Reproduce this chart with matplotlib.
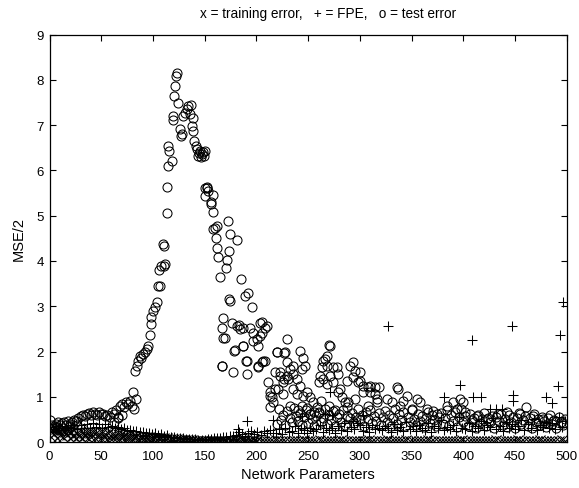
import numpy as np
import matplotlib
matplotlib.use("Agg")
import matplotlib.pyplot as plt

plt.rcParams["font.family"] = ["Liberation Sans", "DejaVu Sans"]

# --- training error (x), sampled every 3 network parameters ---
train_x = np.arange(0, 500, 3)
train_y = [
    0.30, 0.26, 0.28, 0.24, 0.27, 0.22, 0.25, 0.23, 0.26, 0.21,
    0.24, 0.20, 0.23, 0.19, 0.22, 0.20, 0.18, 0.21, 0.17, 0.19,
    0.18, 0.16, 0.17, 0.15, 0.16, 0.14, 0.15, 0.13, 0.14, 0.12,
    0.12, 0.11, 0.12, 0.10, 0.10, 0.09, 0.09, 0.08, 0.08, 0.07,
    0.06, 0.06, 0.05, 0.05, 0.04, 0.04, 0.04, 0.03, 0.03, 0.03,
    0.03, 0.02, 0.03, 0.02, 0.02, 0.03, 0.02, 0.03, 0.02, 0.03,
    0.03, 0.02, 0.04, 0.03, 0.02, 0.03, 0.04, 0.02, 0.03, 0.02,
    0.03, 0.02, 0.03, 0.04, 0.02, 0.03, 0.02, 0.03, 0.02, 0.03,
    0.02, 0.03, 0.04, 0.02, 0.03, 0.02, 0.03, 0.04, 0.02, 0.03,
    0.03, 0.02, 0.03, 0.02, 0.04, 0.03, 0.02, 0.03, 0.02, 0.03,
    0.02, 0.03, 0.02, 0.04, 0.03, 0.02, 0.03, 0.02, 0.03, 0.04,
    0.03, 0.02, 0.03, 0.02, 0.03, 0.04, 0.02, 0.03, 0.02, 0.03,
    0.02, 0.03, 0.04, 0.03, 0.02, 0.03, 0.02, 0.03, 0.03, 0.02,
    0.03, 0.02, 0.03, 0.04, 0.02, 0.03, 0.02, 0.03, 0.02, 0.03,
    0.02, 0.03, 0.02, 0.03, 0.04, 0.02, 0.03, 0.02, 0.03, 0.02,
    0.03, 0.04, 0.02, 0.03, 0.02, 0.03, 0.02, 0.03, 0.04, 0.02,
    0.03, 0.02, 0.03, 0.02, 0.03, 0.04, 0.03,
]
# second training run, small networks only
train2_x = np.arange(1.5, 200, 3)
train2_y = [
    0.12, 0.18, 0.10, 0.16, 0.11, 0.15, 0.09, 0.14, 0.10, 0.13,
    0.09, 0.13, 0.08, 0.12, 0.09, 0.11, 0.08, 0.12, 0.07, 0.10,
    0.08, 0.10, 0.07, 0.09, 0.06, 0.08, 0.07, 0.09, 0.06, 0.08,
    0.06, 0.07, 0.05, 0.07, 0.05, 0.06, 0.04, 0.05, 0.04, 0.05,
    0.03, 0.04, 0.03, 0.03, 0.02, 0.03, 0.02, 0.02, 0.02, 0.02,
    0.02, 0.01, 0.02, 0.01, 0.02, 0.01, 0.02, 0.01, 0.02, 0.01,
    0.02, 0.01, 0.02, 0.01, 0.02, 0.01, 0.02,
]

# --- FPE (+), sampled every 3 network parameters ---
fpe_x = np.arange(0, 500, 3)
fpe_y = [
    0.33, 0.28, 0.35, 0.30, 0.36, 0.27, 0.34, 0.31, 0.37, 0.29,
    0.38, 0.32, 0.40, 0.30, 0.41, 0.34, 0.39, 0.31, 0.40, 0.33,
    0.36, 0.30, 0.33, 0.28, 0.30, 0.26, 0.27, 0.24, 0.25, 0.22,
    0.22, 0.20, 0.21, 0.18, 0.19, 0.16, 0.17, 0.14, 0.15, 0.12,
    0.11, 0.10, 0.09, 0.08, 0.07, 0.07, 0.06, 0.06, 0.05, 0.05,
    0.05, 0.06, 0.07, 0.08, 0.10, 0.09, 0.12, 0.11, 0.14, 0.13,
    0.16, 0.22, 0.18, 0.14, 0.20, 0.25, 0.17, 0.22, 0.15, 0.24,
    0.19, 0.26, 0.21, 0.20, 0.28, 0.18, 0.30, 0.22, 0.25, 0.36,
    0.21, 0.32, 0.27, 0.19, 0.32, 0.24, 0.29, 0.38, 0.22, 0.30,
    0.26, 0.31, 0.21, 0.35, 0.27, 0.42, 0.24, 0.33, 0.29, 0.41,
    0.38, 0.25, 0.34, 0.22, 0.38, 0.28, 0.31, 0.26, 0.36, 0.30,
    0.23, 0.40, 0.27, 0.33, 0.25, 0.45, 0.29, 0.35, 0.24, 0.38,
    0.31, 0.27, 0.43, 0.22, 0.36, 0.30, 0.48, 0.26, 0.34, 0.29,
    0.37, 0.25, 0.55, 0.32, 0.28, 0.41, 0.24, 0.35, 0.30, 0.46,
    0.27, 0.38, 0.33, 0.52, 0.29, 0.36, 0.25, 0.44, 0.31, 0.40,
    0.28, 0.35, 0.48, 0.26, 0.39, 0.32, 0.50, 0.27, 0.37, 0.33,
    0.45, 0.30, 0.41, 0.28, 0.55, 0.34, 0.47,
]
# FPE values well above the band
fpe_hi_x = [190.5, 216.3, 182.4, 243.7, 266.2, 271.0, 272.6, 293.5, 303.2, 326.8,
            381.2, 396.6, 407.9, 408.9, 416.9, 425.6, 432.0, 436.9, 446.6, 447.5,
            448.1, 479.7, 485.2, 491.6, 493.2, 496.4]
fpe_hi_y = [0.46, 0.48, 0.29, 0.57, 0.62, 1.10, 0.60, 0.47, 0.60, 2.57,
            1.00, 1.26, 2.25, 0.99, 1.00, 0.73, 0.73, 0.73, 2.57, 0.91,
            1.04, 0.99, 0.86, 1.23, 2.36, 3.09]

# --- test error (o) ---
test_x = [
    0, 2, 4, 6, 8, 10, 12, 14, 16, 18, 20, 22, 24, 26, 28, 30, 32, 34, 36, 38,
    40, 42, 44, 46, 48, 50, 52, 54, 56, 58, 60, 62, 64, 66, 68, 70, 72, 74, 76, 78,
    80, 82, 84, 3, 7, 13, 20, 27, 62, 66, 70,
    81, 82.6, 84.2, 85.8, 87.4, 88.5, 90, 92, 93.9, 95.5, 97.1, 97.8, 98.1, 99.7,
    101.9, 103.6, 105, 106.8, 106.1, 108, 110.5, 111.6, 109.4, 110.6, 113.2, 113.2,
    114.2, 115.7, 114.8, 118, 119, 119.6, 120.6, 121.3, 121.9, 122.9, 124.4, 126.1,
    127, 127.7, 129.3, 130.9, 132.6, 134.1, 136.4, 135.7, 138.4, 138, 138.9, 139.6,
    141.5, 142.8, 143.8, 145.4, 147, 148.6, 150.2, 146, 144.5, 149,
    150.2, 151.9, 152.5, 153.4, 150.2, 158.3, 155.8, 156.5, 158.3, 172.8, 161.5,
    158.3, 159.9, 174.4, 181.4, 160.9, 162.1, 173.7, 163.1, 171.8, 170.5, 164.7,
    185, 173.7, 188.9, 192.1, 195.4, 174.4, 167.3, 166.4, 176, 180.9, 183.4, 184.1,
    187.3, 193.7, 196.9, 200.2, 201.7, 203.4, 205, 205, 208.2, 203.4, 209.9, 169.6,
    167.9, 179.2, 178.3, 186.7, 187.3, 196.9, 189.9, 190.5, 205, 208.2, 206.6,
    166.4, 166.4, 177.6, 191.1, 201.7, 201.7,
    211.4, 213, 213, 216.2, 217.9, 219.5, 222.7, 225.9, 229.2, 227.5, 232.4, 230.8,
    235.6, 220.1, 226.6, 229.8, 242, 245.2, 217.9, 222.7, 232.4, 226.4, 229.6, 235.6,
    238.8, 243.7, 246.9, 213, 214.7, 221.1, 226, 235.6, 238.8, 242, 245.2, 248.5,
    251.7, 254.9, 258.2, 255.6, 271, 270.3, 267.8, 266.2, 264.6, 263, 268.4, 261.4,
    264.6, 271, 260.7, 267.8, 274.2, 277.5, 274.2, 279, 279.1, 282.3, 285.5, 290.3,
    293, 295.2, 293.5, 300, 298.4, 287.1, 303.2, 308, 309.7, 314.5, 316.1, 300,
    287.1, 280.7, 288.7, 295.2, 303.2, 309.7, 314.5, 318.7, 316.1, 308, 325.8, 330.6,
    335.5, 337, 345.1, 341.8, 338.6, 354.8, 358, 350, 364.5, 370.8, 374.1, 383.8,
    390.1, 396.6, 399.2, 393.4, 401.4, 412.8, 422.4, 433.6, 441.7, 461, 454.6, 467.4,
    477.1, 486.8, 496.4, 249, 252, 244, 240, 260, 262, 270, 276,
]
test_y = [
    0.49, 0.38, 0.36, 0.40, 0.45, 0.37, 0.42, 0.44, 0.38, 0.46, 0.40, 0.45, 0.49, 0.47,
    0.52, 0.58, 0.60, 0.57, 0.62, 0.64, 0.60, 0.66, 0.63, 0.59, 0.66, 0.61, 0.62, 0.58,
    0.60, 0.55, 0.66, 0.62, 0.70, 0.55, 0.80, 0.84, 0.78, 0.88, 0.85, 0.91, 0.80, 0.73,
    0.95, 0.30, 0.33, 0.31, 0.35, 0.38, 0.45, 0.52, 0.60,
    1.11, 1.58, 1.69, 1.80, 1.91, 1.85, 1.95, 2.00, 2.05, 2.13, 2.36, 2.61, 2.76, 2.90,
    2.98, 3.09, 3.45, 3.45, 3.81, 3.90, 3.90, 3.93, 4.37, 4.34, 5.06, 5.63,
    6.10, 6.44, 6.55, 6.22, 7.20, 7.12, 7.64, 7.86, 8.08, 8.15, 7.49, 6.92,
    6.76, 6.80, 7.21, 7.28, 7.36, 7.43, 7.45, 7.25, 7.17, 6.99, 6.88, 6.66,
    6.55, 6.47, 6.33, 6.44, 6.36, 6.40, 6.44, 6.30, 6.38, 6.32,
    5.61, 5.61, 5.63, 5.55, 5.43, 5.46, 5.30, 5.25, 5.09, 4.89, 4.78,
    4.71, 4.74, 4.60, 4.47, 4.50, 4.28, 4.22, 4.08, 4.03, 3.84, 3.64,
    3.60, 3.16, 3.23, 3.29, 2.98, 3.12, 2.73, 2.53, 2.64, 2.57, 2.58, 2.50,
    2.51, 2.53, 2.42, 2.28, 2.13, 2.64, 2.42, 2.66, 2.53, 2.35, 2.57, 2.29,
    2.29, 2.04, 2.02, 2.13, 2.13, 2.24, 1.80, 1.80, 1.76, 1.80, 1.80,
    1.67, 1.69, 1.54, 1.50, 1.65, 1.69,
    1.32, 1.02, 0.77, 0.88, 1.17, 1.98, 1.54, 1.32, 2.28, 1.98, 0.80, 1.39,
    1.69, 2.00, 1.97, 1.77, 2.02, 1.85, 1.54, 1.47, 1.61, 1.39, 1.47, 1.50,
    1.39, 1.61, 1.69, 1.10, 0.99, 1.17, 1.06, 1.17, 1.06, 1.24, 1.02, 1.10,
    0.99, 0.88, 0.77, 0.66, 2.13, 2.14, 1.91, 1.83, 1.80, 1.65, 1.69, 1.47,
    1.39, 1.47, 1.32, 1.28, 1.32, 1.65, 1.65, 1.50, 1.10, 0.99, 0.88, 1.69,
    1.76, 1.58, 1.43, 1.54, 1.32, 0.77, 1.24, 1.21, 1.10, 1.06, 0.95, 1.35,
    1.35, 1.17, 0.88, 0.95, 1.10, 1.24, 1.21, 1.21, 0.88, 0.80, 0.95, 0.88,
    1.21, 1.17, 1.02, 0.91, 0.80, 0.95, 0.88, 0.73, 0.73, 0.69, 0.62, 0.80,
    0.88, 0.95, 0.88, 0.73, 0.66, 0.58, 0.51, 0.62, 0.66, 0.77, 0.62, 0.58,
    0.51, 0.47, 0.43, 0.75, 0.62, 0.80, 0.70, 0.65, 0.90, 0.80, 0.70,
]
# low test errors from 220 parameters on, every 2 parameters
test_band_x = np.arange(220, 500, 2)
test_band_y = [
    0.40, 0.72, 0.48, 0.60, 0.37, 0.68, 0.52, 0.44, 0.75, 0.58,
    0.46, 0.65, 0.38, 0.55, 0.70, 0.42, 0.62, 0.50, 0.35, 0.58,
    0.66, 0.44, 0.54, 0.72, 0.40, 0.60, 0.48, 0.68, 0.36, 0.56,
    0.62, 0.45, 0.70, 0.38, 0.58, 0.52, 0.65, 0.42, 0.55, 0.74,
    0.48, 0.60, 0.36, 0.66, 0.50, 0.70, 0.42, 0.58, 0.46, 0.64,
    0.38, 0.55, 0.68, 0.44, 0.60, 0.35, 0.52, 0.72, 0.40, 0.62,
    0.48, 0.66, 0.36, 0.56, 0.44, 0.70, 0.50, 0.38, 0.62, 0.46,
    0.58, 0.34, 0.54, 0.66, 0.42, 0.60, 0.48, 0.36, 0.56, 0.64,
    0.40, 0.52, 0.70, 0.38, 0.60, 0.46, 0.66, 0.34, 0.55, 0.72,
    0.44, 0.58, 0.36, 0.62, 0.48, 0.54, 0.32, 0.60, 0.42, 0.50,
    0.64, 0.36, 0.52, 0.44, 0.58, 0.30, 0.55, 0.46, 0.62, 0.38,
    0.50, 0.34, 0.60, 0.44, 0.56, 0.32, 0.52, 0.64, 0.40, 0.48,
    0.58, 0.36, 0.54, 0.30, 0.62, 0.44, 0.50, 0.38, 0.56, 0.46,
    0.34, 0.52, 0.60, 0.40, 0.48, 0.30, 0.56, 0.44, 0.38, 0.50,
]

xticks = list(range(0, 501, 50))
yticks = list(range(0, 10))

fig = plt.figure(figsize=(5.79, 4.89), dpi=100)
ax = fig.add_axes([0.0855, 0.094, 0.8935, 0.833])

mk = dict(linestyle="none", color="black", markerfacecolor="none",
          markeredgewidth=0.75)
ax.plot(train_x, train_y, marker="x", markersize=6.5, **mk)
ax.plot(train2_x, train2_y, marker="x", markersize=6.5, **mk)
ax.plot(fpe_x, fpe_y, marker="+", markersize=7.5, **mk)
ax.plot(fpe_hi_x, fpe_hi_y, marker="+", markersize=7.5, **mk)
ax.plot(test_x, test_y, marker="o", markersize=6.5, **mk)
ax.plot(test_band_x, test_band_y, marker="o", markersize=6.5, **mk)

ax.set_xlim(0, 500)
ax.set_ylim(0, 9)
ax.set_xticks(xticks)
ax.set_yticks(yticks)
ax.tick_params(direction="in", top=True, right=True, length=4, width=0.8,
               labelsize=9.5, pad=6)
ax.tick_params(axis="y", pad=4)
for s in ax.spines.values():
    s.set_linewidth(0.9)

fig.text(0.567, 0.971, "x = training error,   + = FPE,   o = test error",
         fontsize=9.8, ha="center", va="center")
ax.set_xlabel("Network Parameters", fontsize=10.5, labelpad=3)
ax.set_ylabel("MSE/2", fontsize=10.5, labelpad=8)

fig.savefig("out.png", dpi=100)
